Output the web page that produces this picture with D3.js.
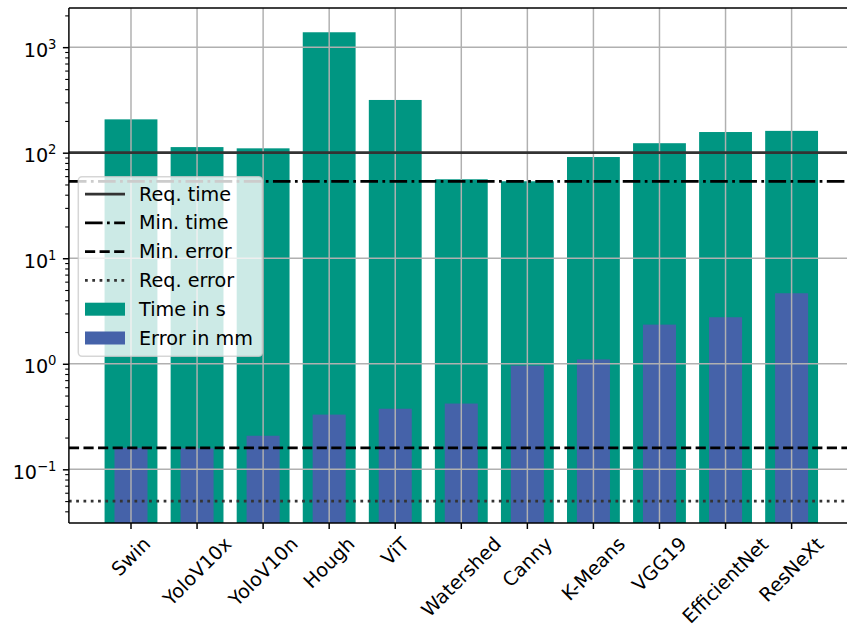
<!DOCTYPE html>
<html><head><meta charset="utf-8">
<script src="https://cdn.jsdelivr.net/npm/d3@7"></script>
<style>
body{margin:0;background:#fff}
svg{display:block}
text{font-family:"DejaVu Sans",sans-serif;fill:#000}
</style>
</head><body>
<svg id="chart" width="847" height="629"></svg>
<script>
// ---------------- data ----------------
const categories = ["Swin","YoloV10x","YoloV10n","Hough","ViT","Watershed","Canny","K-Means","VGG19","EfficientNet","ResNeXt"];
const timeValues  = [207, 113, 110, 1384, 316, 56, 53.6, 91, 123, 157, 161];
const errorValues = [0.16, 0.158, 0.208, 0.33, 0.375, 0.42, 0.96, 1.10, 2.35, 2.76, 4.66];
const refLabels = ["Req. time", "Min. time", "Min. error", "Req. error"];
const refValues = [100, 53.6, 0.16, 0.05];
const seriesLabels = ["Time in s", "Error in mm"];
const yTickValues = [0.1, 1, 10, 100, 1000];
const yTickExponents = ["\u22121", "0", "1", "2", "3"];
const yDomain = [0.031, 2350];

(function(){
// ---------------- layout / style ----------------
const pLeft = 68.9, pRight = 853.7, pTop = 8, pBottom = 523;
const FS = 19.2;
const LW = 2.75;
const teal = "#009682", blue = "#4562a9";
const gridColor = "#b0b0b0";
const refStyles = [
  {color:"#333333", dash:null},
  {color:"#000000", dash:[6.4,1.6,1,1.6].map(d=>d*LW)},
  {color:"#000000", dash:[3.7,1.6].map(d=>d*LW)},
  {color:"#333333", dash:[1,1.65].map(d=>d*LW)}
];

const svg = d3.select("#chart");

const x = d3.scaleBand().domain(categories).range([pLeft, pRight]).paddingInner(0).paddingOuter(0.44);
const y = d3.scaleLog().domain(yDomain).range([pBottom, pTop]);
const step = x.step();
const cx = c => x(c) + x.bandwidth()/2;

svg.append("defs").append("clipPath").attr("id","clip").append("rect")
  .attr("x", pLeft).attr("y", pTop).attr("width", pRight-pLeft).attr("height", pBottom-pTop);

const plot = svg.append("g").attr("clip-path","url(#clip)");

// bars
plot.append("g").selectAll("rect").data(categories).join("rect")
  .attr("x", c=>cx(c) - 0.4*step)
  .attr("width", 0.8*step)
  .attr("y", (c,i)=>y(timeValues[i]))
  .attr("height", (c,i)=>pBottom - y(timeValues[i]) + 2)
  .attr("fill", teal);
plot.append("g").selectAll("rect").data(categories).join("rect")
  .attr("x", c=>cx(c) - 0.25*step)
  .attr("width", 0.5*step)
  .attr("y", (c,i)=>y(errorValues[i]))
  .attr("height", (c,i)=>pBottom - y(errorValues[i]) + 2)
  .attr("fill", blue);

// grid
plot.append("g").selectAll("line").data(yTickValues).join("line")
  .attr("x1", pLeft).attr("x2", pRight)
  .attr("y1", d=>y(d)).attr("y2", d=>y(d))
  .attr("stroke", gridColor).attr("stroke-width", 1.47);
plot.append("g").selectAll("line").data(categories).join("line")
  .attr("x1", d=>cx(d)).attr("x2", d=>cx(d))
  .attr("y1", pTop).attr("y2", pBottom)
  .attr("stroke", gridColor).attr("stroke-width", 1.47);

// reference lines
plot.append("g").selectAll("line").data(refValues).join("line")
  .attr("x1", pLeft).attr("x2", pRight)
  .attr("y1", d=>y(d)).attr("y2", d=>y(d))
  .attr("stroke", (d,i)=>refStyles[i].color)
  .attr("stroke-width", LW)
  .attr("stroke-dasharray", (d,i)=>refStyles[i].dash ? refStyles[i].dash.join(",") : null);

// y axis
const yAxis = d3.axisLeft(y).tickValues(yTickValues).tickSize(6).tickPadding(6.4).tickFormat(()=>"");
const gy = svg.append("g").attr("transform", `translate(${pLeft},0)`).call(yAxis);
gy.select(".domain").remove();
gy.selectAll(".tick line").attr("stroke","#000").attr("stroke-width",1.47);
gy.selectAll(".tick text").each(function(d,i){
  const t = d3.select(this);
  t.text(null).attr("font-size", FS).attr("dy", null).attr("y", 9).attr("fill","#000")
   .attr("font-family","DejaVu Sans");
  t.append("tspan").text("10");
  t.append("tspan").attr("font-size", 13.2).attr("dy", -8).text(yTickExponents[i]);
});
// minor ticks
const minorTicks = [];
for (let e = -2; e <= 3; e++) for (let m = 2; m <= 9; m++) {
  const v = m * Math.pow(10, e);
  if (v >= yDomain[0] && v <= yDomain[1]) minorTicks.push(v);
}
const yMinor = d3.axisLeft(y).tickValues(minorTicks).tickSize(3.7).tickFormat(()=>"");
const gym = svg.append("g").attr("transform", `translate(${pLeft},0)`).call(yMinor);
gym.select(".domain").remove();
gym.selectAll(".tick line").attr("stroke","#000").attr("stroke-width",1.1);

// x axis
const xAxis = d3.axisBottom(x).tickSize(6).tickPadding(6.4);
const gx = svg.append("g").attr("transform", `translate(0,${pBottom})`).call(xAxis);
gx.select(".domain").remove();
gx.selectAll(".tick line").attr("stroke","#000").attr("stroke-width",1.47);
const svgBox = svg.node().getBoundingClientRect();
gx.selectAll(".tick text").each(function(d){
  const t = d3.select(this);
  t.attr("font-size", FS).attr("dy", null).attr("y", 0).attr("fill","#000")
   .attr("font-family","DejaVu Sans").attr("text-anchor","middle")
   .attr("transform", "rotate(-45)");
  const b = this.getBoundingClientRect();
  const bcx = (b.left + b.right)/2 - svgBox.left;
  const btop = b.top - svgBox.top;
  const targetTop = pBottom + 9.5;
  const dx = cx(d) - bcx, dyy = targetTop - btop;
  t.attr("transform", `translate(${dx},${dyy}) rotate(-45)`);
});

// spines
const spines = svg.append("g").attr("stroke","#000").attr("stroke-width",1.47).attr("fill","none");
spines.append("line").attr("x1",pLeft).attr("x2",pLeft).attr("y1",pTop).attr("y2",pBottom);
spines.append("line").attr("x1",pLeft).attr("x2",pRight).attr("y1",pBottom).attr("y2",pBottom);
spines.append("line").attr("x1",pLeft).attr("x2",pRight).attr("y1",pTop).attr("y2",pTop);
spines.append("line").attr("x1",pRight).attr("x2",pRight).attr("y1",pTop).attr("y2",pBottom);

// legend
const lg = svg.append("g");
lg.append("rect").attr("x",78.3).attr("y",176.7).attr("width",184).attr("height",179.5)
  .attr("rx",3.7).attr("ry",3.7)
  .attr("fill","#fff").attr("fill-opacity",0.8)
  .attr("stroke","#cccccc").attr("stroke-opacity",0.8).attr("stroke-width",1.47);
const rowY = i => 194 + i*28.8;
const hx0 = 85, hx1 = 125, tx = 139;
refLabels.forEach((lab,i)=>{
  lg.append("line").attr("x1",hx0).attr("x2",hx1).attr("y1",rowY(i)).attr("y2",rowY(i))
    .attr("stroke", refStyles[i].color).attr("stroke-width", LW)
    .attr("stroke-dasharray", refStyles[i].dash ? refStyles[i].dash.join(",") : null);
  lg.append("text").attr("x",tx).attr("y",rowY(i)).attr("dy","0.34em").attr("font-size",FS).text(lab);
});
seriesLabels.forEach((lab,j)=>{
  const i = refLabels.length + j;
  lg.append("rect").attr("x",hx0).attr("width",hx1-hx0).attr("y",rowY(i)-6.5).attr("height",13)
    .attr("fill", j===0 ? teal : blue);
  lg.append("text").attr("x",tx).attr("y",rowY(i)).attr("dy","0.34em").attr("font-size",FS).text(lab);
});
})();
</script>
</body></html>
